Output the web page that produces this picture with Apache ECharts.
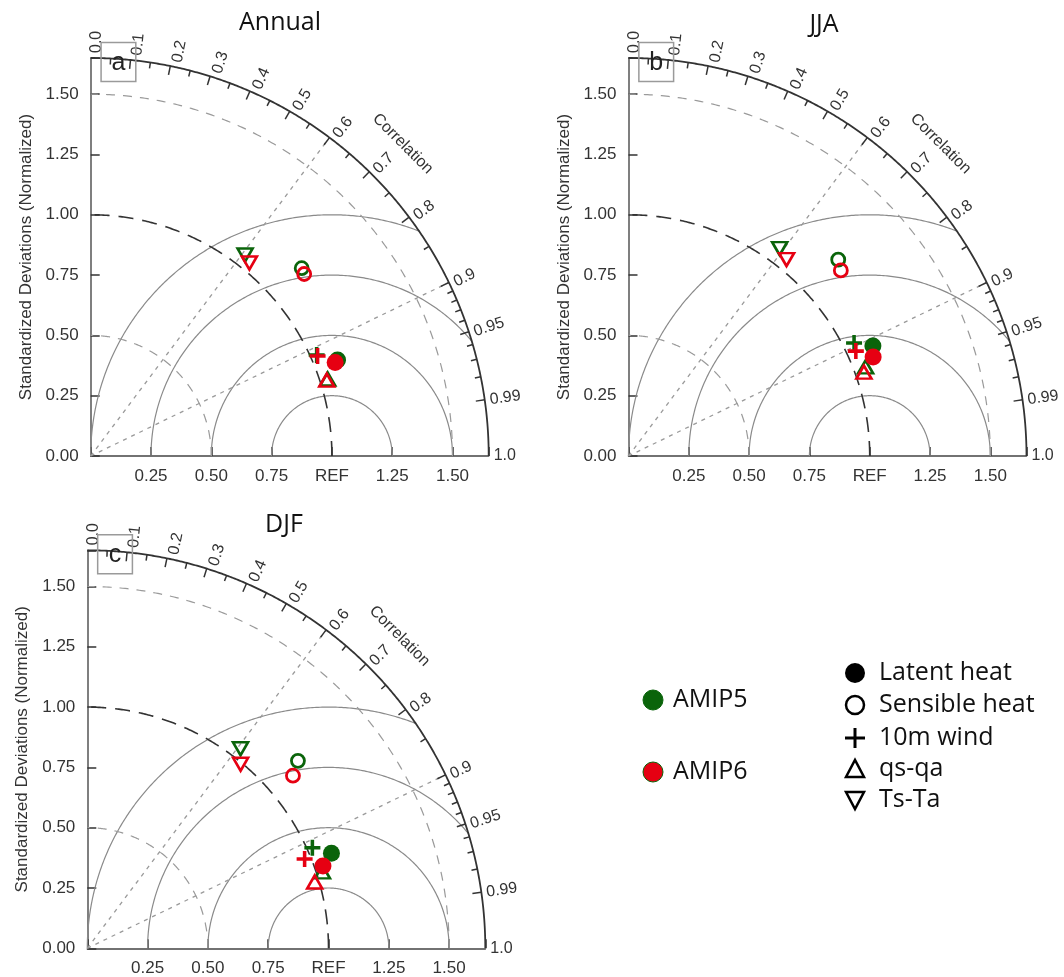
<!DOCTYPE html>
<html>
<head>
<meta charset="utf-8">
<script src="https://cdn.jsdelivr.net/npm/echarts@6/dist/echarts.min.js"></script>
<style>html,body{margin:0;padding:0;background:#fff}#c{width:1064px;height:977px}</style>
</head>
<body>
<div id="c"></div>
<script>
// ---------------- data ----------------
const panelTitles = ['Annual', 'JJA', 'DJF'];
const panelLetters = ['a', 'b', 'c'];
const models = ['AMIP5', 'AMIP6'];
const variables = ['Latent heat', 'Sensible heat', '10m wind', 'qs-qa', 'Ts-Ta'];

// normalized standard deviation and correlation, order follows `variables`
const annualStdAMIP5 = [1.098, 1.171, 1.026, 1.033, 1.051];
const annualCorAMIP5 = [0.932, 0.747, 0.913, 0.951, 0.609];
const annualStdAMIP6 = [1.085, 1.163, 1.028, 1.028, 1.036];
const annualCorAMIP6 = [0.934, 0.761, 0.915, 0.952, 0.635];

const jjaStdAMIP5 = [1.111, 1.191, 1.046, 1.050, 1.064];
const jjaCorAMIP5 = [0.912, 0.730, 0.894, 0.936, 0.589];
const jjaStdAMIP6 = [1.094, 1.169, 1.038, 1.036, 1.045];
const jjaCorAMIP6 = [0.927, 0.753, 0.908, 0.942, 0.627];

const djfStdAMIP5 = [1.086, 1.169, 1.022, 1.025, 1.043];
const djfCorAMIP5 = [0.932, 0.747, 0.913, 0.951, 0.609];
const djfStdAMIP6 = [1.035, 1.113, 0.974, 0.982, 0.993];
const djfCorAMIP6 = [0.944, 0.766, 0.925, 0.960, 0.640];

// axis / diagram ticks
const maxStd = 1.65;
const stdTickInterval = 0.25;
const corrLabelValues = [0.0, 0.1, 0.2, 0.3, 0.4, 0.5, 0.6, 0.7, 0.8, 0.9, 0.95, 0.99, 1.0];
const corrMajorValues = [0.1, 0.2, 0.3, 0.4, 0.5, 0.6, 0.7, 0.8, 0.9, 0.95, 0.99];
const corrMinorValues = [0.05, 0.15, 0.25, 0.35, 0.45, 0.55, 0.65, 0.75, 0.85, 0.91, 0.92, 0.93, 0.94, 0.96, 0.97, 0.98];
const rmsRadii = [0.25, 0.5, 0.75, 1.0];
const stdDashedGray = [0.5, 1.5];
const stdDashedRef = [1.0];
const corrRays = [0.6, 0.9];

const panelData = [
  [[annualStdAMIP5, annualCorAMIP5], [annualStdAMIP6, annualCorAMIP6]],
  [[jjaStdAMIP5, jjaCorAMIP5], [jjaStdAMIP6, jjaCorAMIP6]],
  [[djfStdAMIP5, djfCorAMIP5], [djfStdAMIP6, djfCorAMIP6]]
];

// ---------------- styling / layout ----------------
const FONT = '"Liberation Sans", Arial, sans-serif';
const TFONT = '"Open Sans", "Noto Sans", sans-serif';
const modelColors = ['#0a640a', '#e60012'];
const gridPos = [[90.7, 58], [628.5, 58], [87.3, 550.3]];
const gridSize = 398;
const titlePos = [[280, 23], [824, 25], [284, 525]];
const plusPath = 'path://M7,0H11V7H18V11H11V18H7V11H0V7H7Z';

function txtStyle(o) {
  const s = Object.assign({ legacy: false }, o);
  return s;
}

function fmtCorr(c) {
  if (c === 0) return '0.0';
  if (c === 1) return '1.0';
  return String(c);
}

function geometry(letter) {
  return function (params, api) {
    const P = (x, y) => api.coord([x, y]);
    const px = api.size([1, 0])[0];
    const ch = [];
    const poly = (pts, style) => ch.push({ type: 'polyline', silent: true, shape: { points: pts }, style: Object.assign({ fill: 'none' }, style) });
    const arc = (cx, r, t0, t1, n) => {
      const pts = [];
      for (let k = 0; k <= n; k++) {
        const t = t0 + (t1 - t0) * k / n;
        pts.push(P(cx + r * Math.cos(t), r * Math.sin(t)));
      }
      return pts;
    };
    // RMS difference arcs centred on REF
    rmsRadii.forEach(r => {
      const t0 = Math.acos(Math.max(-1, Math.min(1, (maxStd * maxStd - 1 - r * r) / (2 * r))));
      const t1 = Math.acos(Math.max(-1, -1 / r));
      poly(arc(1, r, t0, t1, 240), { stroke: '#8a8a8a', lineWidth: 1.2 });
    });
    // std arcs centred on origin
    stdDashedGray.forEach(r => poly(arc(0, r, 0, Math.PI / 2, 240), { stroke: '#9a9a9a', lineWidth: 1.2, lineDash: [9, 8] }));
    stdDashedRef.forEach(r => poly(arc(0, r, 0, Math.PI / 2, 240), { stroke: '#333', lineWidth: 1.6, lineDash: [15, 9] }));
    // correlation rays
    corrRays.forEach(c => {
      const t = Math.acos(c);
      poly([P(0, 0), P(maxStd * Math.cos(t), maxStd * Math.sin(t))], { stroke: '#9a9a9a', lineWidth: 1.3, lineDash: [4, 5] });
    });
    // outer arc
    poly(arc(0, maxStd, 0, Math.PI / 2, 360), { stroke: '#333', lineWidth: 1.8 });
    const tick = (c, len) => {
      const t = Math.acos(c);
      const r2 = maxStd - len / px;
      poly([P(maxStd * Math.cos(t), maxStd * Math.sin(t)), P(r2 * Math.cos(t), r2 * Math.sin(t))], { stroke: '#333', lineWidth: 1.5 });
    };
    corrMajorValues.forEach(c => tick(c, 9));
    corrMinorValues.forEach(c => tick(c, 6));
    // correlation labels
    corrLabelValues.forEach(c => {
      const t = Math.acos(c);
      const r0 = maxStd + 5 / px;
      const p = P(r0 * Math.cos(t), r0 * Math.sin(t));
      const off = 6 * Math.sin(t);
      ch.push({
        type: 'text', silent: true,
        x: p[0] + off * Math.sin(t), y: p[1] + off * Math.cos(t), rotation: t,
        style: txtStyle({ text: fmtCorr(c), fontSize: 16, fontFamily: FONT, fill: '#333', align: 'left', verticalAlign: 'middle' })
      });
    });
    // "Correlation" caption
    const tc = Math.PI / 4, rc = 1.83;
    const pc = P(rc * Math.cos(tc), rc * Math.sin(tc));
    ch.push({
      type: 'text', silent: true, x: pc[0], y: pc[1], rotation: -Math.PI / 4,
      style: txtStyle({ text: 'Correlation', fontSize: 16, fontFamily: FONT, fill: '#333', align: 'center', verticalAlign: 'middle' })
    });
    // panel letter box
    const b0 = P(0.043, 1.714), b1 = P(0.187, 1.553);
    ch.push({ type: 'rect', silent: true, shape: { x: b0[0], y: b0[1], width: b1[0] - b0[0], height: b1[1] - b0[1] }, style: { fill: 'none', stroke: '#9a9a9a', lineWidth: 1.5 } });
    ch.push({
      type: 'text', silent: true, x: (b0[0] + b1[0]) / 2, y: (b0[1] + b1[1]) / 2 + 1,
      style: txtStyle({ text: letter, fontSize: 25, fontFamily: FONT, fill: '#222', align: 'center', verticalAlign: 'middle' })
    });
    return { type: 'group', children: ch };
  };
}

function markerItem(vi, color, x, y) {
  const base = { value: [x, y] };
  if (vi === 0) return Object.assign(base, { symbol: 'circle', symbolSize: 17, itemStyle: { color: color, borderWidth: 0, opacity: 1 } });
  if (vi === 1) return Object.assign(base, { symbol: 'circle', symbolSize: 13, itemStyle: { color: 'rgba(0,0,0,0)', borderColor: color, borderWidth: 2.8, opacity: 1 } });
  if (vi === 2) return Object.assign(base, { symbol: plusPath, symbolSize: 16, itemStyle: { color: color, borderWidth: 0, opacity: 1 } });
  if (vi === 3) return Object.assign(base, { symbol: 'triangle', symbolSize: [15, 13], itemStyle: { color: 'rgba(0,0,0,0)', borderColor: color, borderWidth: 2.6, opacity: 1 } });
  return Object.assign(base, { symbol: 'triangle', symbolSize: [15, 13], symbolRotate: 180, itemStyle: { color: 'rgba(0,0,0,0)', borderColor: color, borderWidth: 2.6, opacity: 1 } });
}

const grids = [], xAxes = [], yAxes = [], series = [], graphics = [];
for (let i = 0; i < 3; i++) {
  grids.push({ left: gridPos[i][0], top: gridPos[i][1], width: gridSize, height: gridSize, containLabel: false, outerBoundsMode: 'none' });
  xAxes.push({
    gridIndex: i, type: 'value', min: 0, max: maxStd, interval: stdTickInterval,
    axisLine: { show: true, lineStyle: { color: '#444', width: 1.5 } },
    axisTick: { show: true, inside: true, length: 9, lineStyle: { color: '#333', width: 1.5 } },
    splitLine: { show: false },
    axisLabel: {
      fontSize: 17, fontFamily: FONT, color: '#333', margin: 12,
      formatter: v => (v < 1e-9 || v > 1.6) ? '' : (Math.abs(v - 1) < 1e-9 ? 'REF' : v.toFixed(2))
    }
  });
  yAxes.push({
    gridIndex: i, type: 'value', min: 0, max: maxStd, interval: stdTickInterval,
    name: 'Standardized Deviations (Normalized)', nameLocation: 'middle', nameGap: 56,
    nameTextStyle: { fontSize: 17, fontFamily: FONT, color: '#333' },
    axisLine: { show: true, lineStyle: { color: '#555', width: 1.5 } },
    axisTick: { show: true, inside: true, length: 9, lineStyle: { color: '#333', width: 1.5 } },
    splitLine: { show: false },
    axisLabel: { fontSize: 17, fontFamily: FONT, color: '#333', margin: 12, formatter: v => v > 1.6 ? '' : v.toFixed(2) }
  });
  series.push({
    type: 'custom', coordinateSystem: 'cartesian2d', xAxisIndex: i, yAxisIndex: i,
    renderItem: geometry(panelLetters[i]), data: [[0, 0]], clip: false, silent: true, z: 1
  });
  for (let m = 0; m < models.length; m++) {
    const [stds, cors] = panelData[i][m];
    const items = stds.map((s, vi) => {
      const c = cors[vi];
      return markerItem(vi, modelColors[m], s * c, s * Math.sqrt(1 - c * c));
    });
    series.push({
      type: 'scatter', name: models[m] + ' ' + panelTitles[i], xAxisIndex: i, yAxisIndex: i,
      data: items, z: 3 + m, silent: true, itemStyle: { opacity: 1 }, emphasis: { disabled: true }
    });
  }
  graphics.push({
    type: 'text', x: titlePos[i][0], y: titlePos[i][1], silent: true,
    style: txtStyle({ text: panelTitles[i], fontSize: 25, fontFamily: TFONT, fill: '#111', align: 'center', verticalAlign: 'middle' })
  });
}

// legend (model colours)
const legendModelY = [700, 772];
models.forEach((m, k) => {
  graphics.push({ type: 'circle', shape: { cx: 653, cy: legendModelY[k], r: 10 }, style: { fill: modelColors[k], stroke: k === 1 ? modelColors[0] : modelColors[k], lineWidth: 1 }, silent: true });
  graphics.push({ type: 'text', x: 673, y: legendModelY[k], silent: true, style: txtStyle({ text: m, fontSize: 25, fontFamily: TFONT, fill: '#111', align: 'left', verticalAlign: 'middle' }) });
});
// legend (variable symbols)
const legendVarY = [673, 705, 738, 769, 800];
const lx = 855;
graphics.push({ type: 'circle', silent: true, shape: { cx: lx, cy: legendVarY[0], r: 10 }, style: { fill: '#000' } });
graphics.push({ type: 'circle', silent: true, shape: { cx: lx, cy: legendVarY[1], r: 9 }, style: { fill: 'none', stroke: '#000', lineWidth: 2.5 } });
graphics.push({ type: 'polyline', silent: true, shape: { points: [[lx, legendVarY[2] - 10], [lx, legendVarY[2] + 10]] }, style: { stroke: '#000', lineWidth: 3 } });
graphics.push({ type: 'polyline', silent: true, shape: { points: [[lx - 10, legendVarY[2]], [lx + 10, legendVarY[2]]] }, style: { stroke: '#000', lineWidth: 3 } });
graphics.push({ type: 'polygon', silent: true, shape: { points: [[lx - 9, legendVarY[3] + 8], [lx + 9, legendVarY[3] + 8], [lx, legendVarY[3] - 9]] }, style: { fill: 'none', stroke: '#000', lineWidth: 2.5 } });
graphics.push({ type: 'polygon', silent: true, shape: { points: [[lx - 9, legendVarY[4] - 8], [lx + 9, legendVarY[4] - 8], [lx, legendVarY[4] + 9]] }, style: { fill: 'none', stroke: '#000', lineWidth: 2.5 } });
variables.forEach((v, k) => {
  graphics.push({ type: 'text', x: 879, y: legendVarY[k], silent: true, style: txtStyle({ text: v, fontSize: 25, fontFamily: TFONT, fill: '#111', align: 'left', verticalAlign: 'middle' }) });
});

const chart = echarts.init(document.getElementById('c'), null, { renderer: 'canvas' });
chart.setOption({
  animation: false,
  backgroundColor: '#fff',
  grid: grids,
  xAxis: xAxes,
  yAxis: yAxes,
  series: series,
  graphic: graphics
});
</script>
</body>
</html>
